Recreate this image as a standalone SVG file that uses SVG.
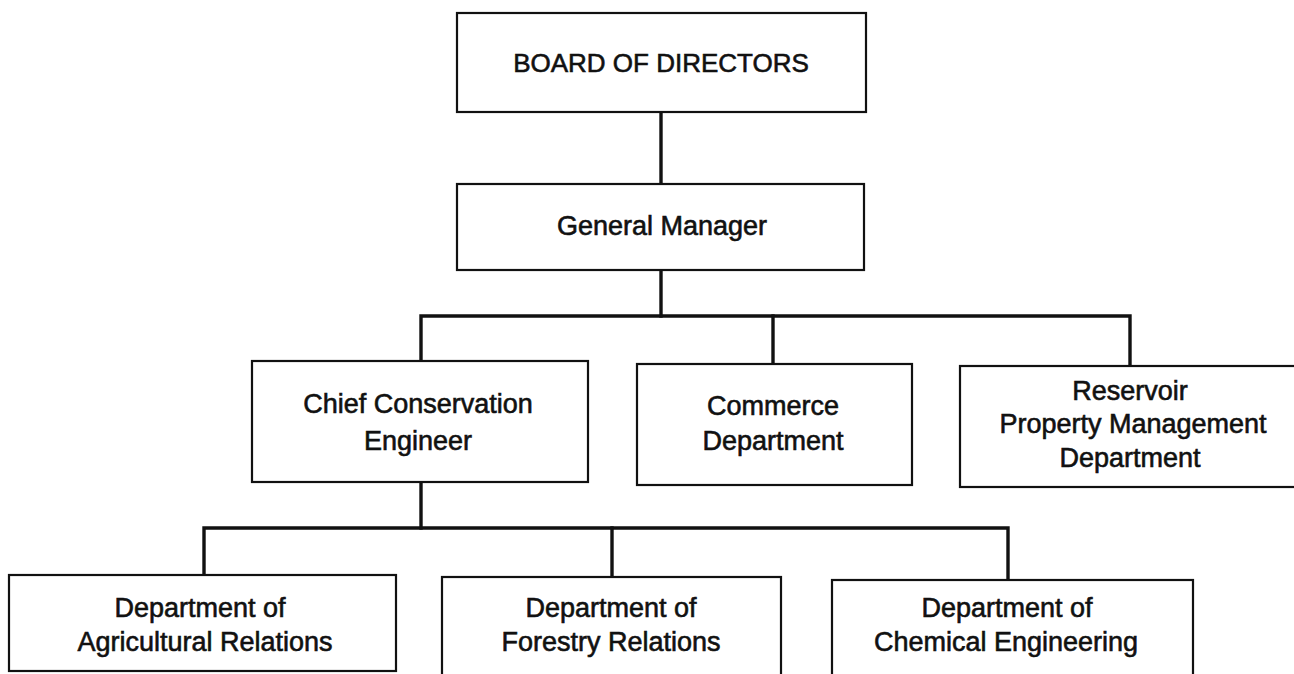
<svg xmlns="http://www.w3.org/2000/svg" width="1294" height="674" viewBox="0 0 1294 674">
  <style>
    .box { fill: #fff; stroke: #111; stroke-width: 2.2; }
    .link { fill: none; stroke: #111; stroke-width: 3.4; stroke-linejoin: miter; stroke-linecap: square; }
    .label { font-family: "Liberation Sans", Arial, Helvetica, sans-serif; font-size: 27px; fill: #111; stroke: #111; stroke-width: 0.6; text-anchor: middle; }
  </style>
  <rect width="1294" height="674" fill="#fff"/>

  <!-- reporting lines -->
  <g id="connectors">
    <path class="link" d="M661 112 V184"/>
    <path class="link" d="M661 270 V316"/>
    <path class="link" d="M421 361 V316 H1130 V366"/>
    <path class="link" d="M773 316 V364"/>
    <path class="link" d="M421 482 V528"/>
    <path class="link" d="M204 575 V528 H1008 V580"/>
    <path class="link" d="M612 528 V577"/>
  </g>

  <g id="board">
    <rect class="box" x="457" y="13" width="409" height="99"/>
    <text class="label" x="661" y="72" style="font-size:26px">BOARD OF DIRECTORS</text>
  </g>

  <g id="general-manager">
    <rect class="box" x="457" y="184" width="407" height="86"/>
    <text class="label" x="662" y="235">General Manager</text>
  </g>

  <g id="chief-engineer">
    <rect class="box" x="252" y="361" width="336" height="121"/>
    <text class="label" x="418" y="413">Chief Conservation</text>
    <text class="label" x="418" y="450">Engineer</text>
  </g>

  <g id="commerce">
    <rect class="box" x="637" y="364" width="275" height="121"/>
    <text class="label" x="773" y="415">Commerce</text>
    <text class="label" x="773" y="450">Department</text>
  </g>

  <g id="reservoir">
    <rect class="box" x="960" y="366" width="345" height="121"/>
    <text class="label" x="1130" y="400">Reservoir</text>
    <text class="label" x="1133" y="433">Property Management</text>
    <text class="label" x="1130" y="467">Department</text>
  </g>

  <g id="agricultural">
    <rect class="box" x="9" y="575" width="387" height="96"/>
    <text class="label" x="200" y="617">Department of</text>
    <text class="label" x="205" y="651">Agricultural Relations</text>
  </g>

  <g id="forestry">
    <rect class="box" x="442" y="577" width="339" height="110"/>
    <text class="label" x="611" y="617">Department of</text>
    <text class="label" x="611" y="651">Forestry Relations</text>
  </g>

  <g id="chemical">
    <rect class="box" x="832" y="580" width="361" height="110"/>
    <text class="label" x="1007" y="617">Department of</text>
    <text class="label" x="1006" y="651">Chemical Engineering</text>
  </g>
</svg>
